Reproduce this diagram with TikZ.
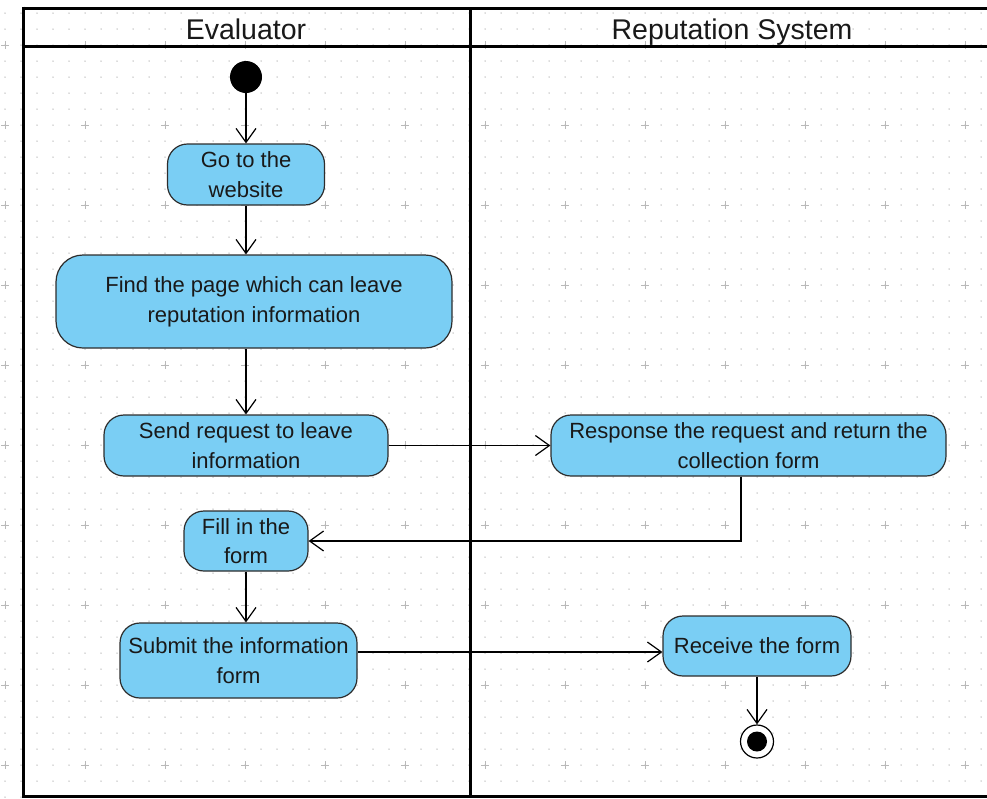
\documentclass[tikz,border=0pt]{standalone}
\usepackage{fontspec}
\setmainfont{Liberation Sans}
\usetikzlibrary{arrows.meta,calc}
\definecolor{actfill}{RGB}{122,206,244}
\definecolor{actdraw}{RGB}{45,45,45}
\definecolor{gridc}{RGB}{185,185,185}
\definecolor{txt}{RGB}{25,25,25}
\begin{document}
\begin{tikzpicture}[x=1pt,y=-1pt,
  act/.style={draw=actdraw, fill=actfill, line width=1.2pt, rounded corners=20pt,
    align=center, text=txt, font=\fontsize{22}{29.5}\selectfont, inner sep=0pt},
  arr/.style={-{Straight Barb[length=14pt,width=20pt,line width=1.2pt]}, line width=1.2pt, draw=black},
  lane/.style={line width=3pt, draw=black},
  hdr/.style={font=\fontsize{28.5}{32}\selectfont, text=txt, inner sep=0pt, anchor=base}]
\useasboundingbox (0,0) rectangle (987,798);
\clip (0,0) rectangle (987,798);
\fill[white] (0,0) rectangle (987,798);
% grid
\foreach \i in {0,...,61}
  \foreach \j in {0,...,49}
    \fill[gridc] (5+16*\i, 13+16*\j) circle (0.75pt);
\foreach \i in {0,...,12}
  \foreach \j in {0,...,9}
    \draw[gridc, line width=0.9pt] (1+80*\i, 45+80*\j) -- ++(8,0) (5+80*\i, 41+80*\j) -- ++(0,8);
% swimlane frame
\draw[lane] (23,8) -- (1000,8);
\draw[lane] (23,46) -- (1000,46);
\draw[lane] (23,796) -- (1000,796);
\draw[lane] (23,6.5) -- (23,797.5);
\draw[lane] (470,8) -- (470,796);
\node[hdr] (h1) at (246,39) {Evaluator};
\node[hdr] (h2) at (732,39) {Reputation System};
% nodes
\node[circle, fill=black, minimum size=32pt, inner sep=0pt] (start) at (246,77) {};
\node[act, minimum width=157pt, minimum height=61pt] (go) at (246,174.5) {Go to the\\website};
\node[act, minimum width=396pt, minimum height=93pt, rounded corners=27pt, text depth=4pt] (find) at (254,301.5) {Find the page which can leave\\reputation information};
\node[act, minimum width=284pt, minimum height=61pt] (send) at (246,445.5) {Send request to leave\\information};
\node[act, minimum width=395pt, minimum height=61pt] (resp) at (748.5,445.5) {Response the request and return the\\collection form};
\node[act, minimum width=124pt, minimum height=60pt] (fill) at (246,541) {Fill in the\\form};
\node[act, minimum width=237pt, minimum height=75pt] (submit) at (238.5,660.5) {Submit the information\\form};
\node[act, minimum width=188pt, minimum height=60pt] (recv) at (757,646) {Receive the form};
\node[circle, draw=black, fill=white, line width=1.2pt, minimum size=33pt, inner sep=0pt] (end) at (757,741.5) {};
\fill[black] (end.center) circle (10pt);
% helper coordinates
\coordinate (c1) at (741,541);
\coordinate (l2) at (0,652);
% edges
\draw[arr] (start) -- (start |- go.north);
\draw[arr] (go.south) -- (go.south |- find.north);
\draw[arr] (find.south -| send.north) -- (send.north);
\draw[arr] (send) -- (resp);
\draw[arr] (resp.south -| c1) -- (c1) -- (fill.east);
\draw[arr] (fill) -- (fill |- submit.north);
\draw[arr] (submit.east |- l2) -- (recv.west |- l2);
\draw[arr] (recv) -- (end);
\end{tikzpicture}
\end{document}
